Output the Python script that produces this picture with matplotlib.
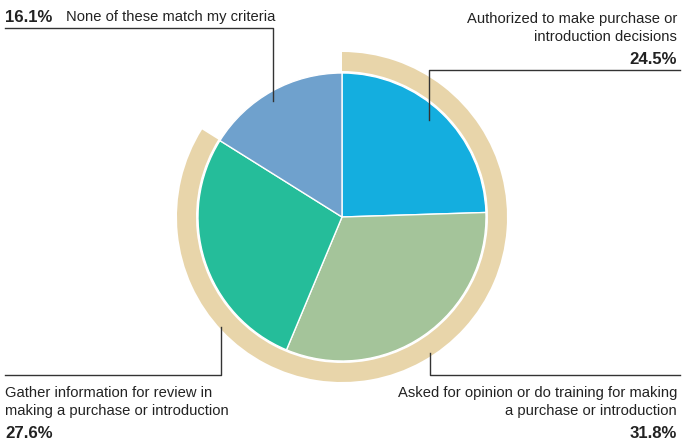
import matplotlib.pyplot as plt
from matplotlib.patches import Wedge

# survey shares, clockwise from 12 o'clock
labels = ['Authorized to make purchase or\nintroduction decisions',
          'Asked for opinion or do training for making\na purchase or introduction',
          'Gather information for review in\nmaking a purchase or introduction',
          'None of these match my criteria']
values = [24.5, 31.8, 27.6, 16.1]
colors = ['#14AEDF', '#A4C49A', '#25BD9A', '#6FA1CD']
ring_color = '#E8D5AA'

W, H = 682, 444
plt.rcParams['font.family'] = ['Liberation Sans', 'DejaVu Sans']

fig = plt.figure(figsize=(W / 100, H / 100), dpi=100)
ax = fig.add_axes([0, 0, 1, 1])

cx, cy = 342, H - 217
r = 144

ax.pie(values, colors=colors, startangle=90, counterclock=False,
       center=(cx, cy), radius=r, normalize=True,
       wedgeprops=dict(edgecolor='white', linewidth=1))

# outer band covering the first three groups
span = sum(values[:3]) / sum(values) * 360
ax.add_patch(Wedge((cx, cy), r + 21, 90 - span, 90, width=19,
                   facecolor=ring_color, edgecolor='none'))

ax.set_xlim(0, W)
ax.set_ylim(0, H)
ax.set_aspect('equal')
ax.axis('off')

lc = '#333333'
lw = 1.0
fs = 10.6
tc = '#222222'
ls = 1.45

def y(p):
    return H - p

# leader lines
ax.plot([5, 273, 273], [y(28), y(28), y(101)], color=lc, lw=lw)
ax.plot([680, 429, 429], [y(70), y(70), y(120)], color=lc, lw=lw)
ax.plot([5, 221, 221], [y(375), y(375), y(327)], color=lc, lw=lw)
ax.plot([680, 430, 430], [y(375), y(375), y(353)], color=lc, lw=lw)

# top-left label
ax.text(5, y(17), f'{values[3]}%', fontsize=fs + 1.5, fontweight='bold',
        ha='left', va='center', color=tc)
ax.text(66, y(17), labels[3], fontsize=fs, ha='left', va='center', color=tc)

# top-right label
ax.text(677, y(28), labels[0], fontsize=fs, ha='right', va='center',
        color=tc, linespacing=ls)
ax.text(677, y(59), f'{values[0]}%', fontsize=fs + 1.5, fontweight='bold',
        ha='right', va='center', color=tc)

# bottom-left label
ax.text(5, y(402), labels[2], fontsize=fs, ha='left', va='center',
        color=tc, linespacing=ls)
ax.text(5, y(434), f'{values[2]}%', fontsize=fs + 1.5, fontweight='bold',
        ha='left', va='center', color=tc)

# bottom-right label
ax.text(677, y(402), labels[1], fontsize=fs, ha='right', va='center',
        color=tc, linespacing=ls)
ax.text(677, y(434), f'{values[1]}%', fontsize=fs + 1.5, fontweight='bold',
        ha='right', va='center', color=tc)

fig.savefig('out.png', dpi=100)
